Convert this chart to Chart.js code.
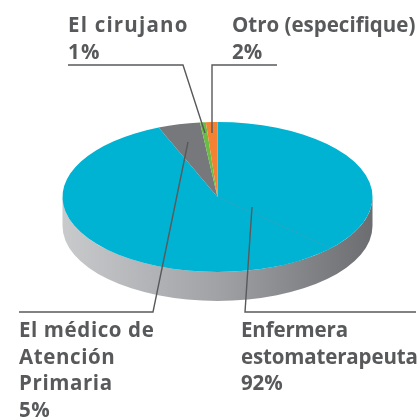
<!DOCTYPE html>
<html><head><meta charset="utf-8">
<style>html,body{margin:0;padding:0;background:#fff}#w{position:absolute;left:0;top:0;width:419px;height:419px}</style>
<script src="https://cdn.jsdelivr.net/npm/chart.js@4"></script>
</head><body><div id="w"><canvas id="c" width="419" height="419"></canvas></div>
<script>
const categories = ["Enfermera estomaterapeuta","El médico de Atención Primaria","El cirujano","Otro (especifique)"];
const printedPercent = [92,5,1,2];
const drawnShare = [93.8,4.4,0.6,1.2];
const sliceColors = ["#00b3d3","#77787b","#69bd45","#f58233"];
const textBlocks = [
  {lines:["El cirujano",printedPercent[2]+"%"],x:68,y:32,track:'1.2px'},
  {lines:["Otro (especifique)",printedPercent[3]+"%"],x:232,y:32,track:'0px'},
  {lines:["El médico de","Atención","Primaria",printedPercent[1]+"%"],x:19,y:337,track:'0.6px'},
  {lines:["Enfermera","estomaterapeuta",printedPercent[0]+"%"],x:241,y:337,track:'-0.15px'}
];
const leaders = [
  [[68,65],[183,65],[205,133]],
  [[277,65],[212,65],[212,133]],
  [[19,312],[153,312],[188,142]],
  [[416,312],[245,312],[252,207]]
];
const squash = 75/155, depth = 29, seamDeg = 133;
const pie3d = {
  id:'pie3d',
  beforeDatasetsDraw(chart){
    const ctx=chart.ctx, a=chart.getDatasetMeta(0).data[0];
    const cx=a.x, cy=a.y, rx=a.outerRadius, ry=rx*squash;
    const g=ctx.createLinearGradient(cx-rx,0,cx+rx,0);
    g.addColorStop(0,'#c9cacc'); g.addColorStop(.5,'#a1a2a6'); g.addColorStop(1,'#6c6d70');
    ctx.save();
    ctx.beginPath();
    ctx.ellipse(cx,cy,rx,ry,0,0,Math.PI);
    ctx.ellipse(cx,cy+depth,rx,ry,0,Math.PI,0,true);
    ctx.closePath(); ctx.fillStyle=g; ctx.fill();
    ctx.restore();
    ctx.save();
    ctx.translate(cx,cy); ctx.scale(1,squash); ctx.translate(-cx,-cy);
  },
  afterDatasetsDraw(chart){
    const ctx=chart.ctx, a=chart.getDatasetMeta(0).data[0];
    ctx.restore();
    const cx=a.x, cy=a.y, rx=a.outerRadius, t=seamDeg*Math.PI/180;
    ctx.save();
    ctx.strokeStyle='rgba(90,150,170,.55)'; ctx.lineWidth=.7;
    ctx.beginPath(); ctx.moveTo(cx,cy);
    ctx.lineTo(cx+rx*Math.sin(t),cy-rx*squash*Math.cos(t)); ctx.stroke();
    ctx.strokeStyle='#58595b'; ctx.lineWidth=1.4;
    leaders.forEach(p=>{ctx.beginPath();p.forEach((q,i)=>i?ctx.lineTo(q[0],q[1]):ctx.moveTo(q[0],q[1]));ctx.stroke();});
    ctx.fillStyle='#58595b'; ctx.font='bold 20.5px "Open Sans"'; ctx.textBaseline='alphabetic';ctx.textAlign='left';
    textBlocks.forEach(b=>{ctx.letterSpacing=b.track;b.lines.forEach((s,i)=>ctx.fillText(s,b.x,b.y+i*26.7));});
    ctx.restore();
  }
};
new Chart(document.getElementById('c'),{
  type:'pie',
  data:{labels:categories,datasets:[{data:drawnShare,backgroundColor:sliceColors,borderWidth:0}]},
  options:{responsive:false,animation:false,
    layout:{padding:{left:62,right:46,top:42,bottom:67}},
    plugins:{legend:{display:false},tooltip:{enabled:false}}},
  plugins:[pie3d]
});
</script></body></html>
